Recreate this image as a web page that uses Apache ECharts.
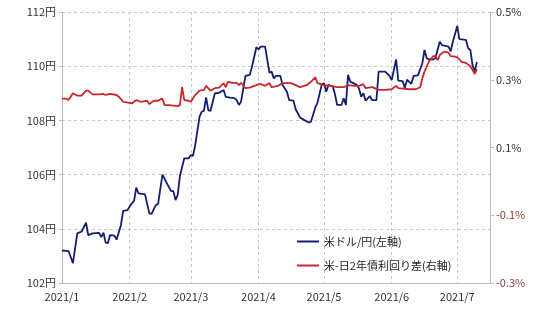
<!DOCTYPE html>
<html><head><meta charset="utf-8">
<script src="https://cdn.jsdelivr.net/npm/echarts@6/dist/echarts.min.js"></script>
<style>html,body{margin:0;padding:0;background:#fff}#c{width:540px;height:320px}</style>
</head><body><div id="c"></div>
<script>
const seriesNames = ['米ドル/円(左軸)', '米-日2年債利回り差(右軸)'];
const leftTicks = [102, 104, 106, 108, 110, 112];
const rightTicks = [-0.3, -0.1, 0.1, 0.3, 0.5];

const usdjpyDates = ['2021-01-01','2021-01-04','2021-01-06','2021-01-08','2021-01-10','2021-01-12','2021-01-13','2021-01-15','2021-01-18','2021-01-19','2021-01-20','2021-01-21','2021-01-22','2021-01-23','2021-01-25','2021-01-26','2021-01-28','2021-01-29','2021-01-31','2021-02-02','2021-02-03','2021-02-04','2021-02-05','2021-02-08','2021-02-10','2021-02-11','2021-02-13','2021-02-14','2021-02-16','2021-02-18','2021-02-20','2021-02-21','2021-02-22','2021-02-23','2021-02-24','2021-02-26','2021-02-28','2021-03-01','2021-03-02','2021-03-03','2021-03-05','2021-03-06','2021-03-07','2021-03-08','2021-03-09','2021-03-10','2021-03-12','2021-03-14','2021-03-16','2021-03-17','2021-03-19','2021-03-21','2021-03-22','2021-03-23','2021-03-24','2021-03-26','2021-03-28','2021-03-29','2021-03-31','2021-04-01','2021-04-02','2021-04-04','2021-04-06','2021-04-07','2021-04-08','2021-04-09','2021-04-11','2021-04-12','2021-04-14','2021-04-15','2021-04-17','2021-04-18','2021-04-20','2021-04-22','2021-04-24','2021-04-25','2021-04-27','2021-04-28','2021-04-30','2021-05-01','2021-05-02','2021-05-03','2021-05-05','2021-05-06','2021-05-07','2021-05-09','2021-05-10','2021-05-11','2021-05-12','2021-05-13','2021-05-16','2021-05-17','2021-05-18','2021-05-19','2021-05-20','2021-05-22','2021-05-23','2021-05-25','2021-05-26','2021-05-29','2021-05-31','2021-06-01','2021-06-03','2021-06-04','2021-06-06','2021-06-07','2021-06-08','2021-06-10','2021-06-11','2021-06-13','2021-06-15','2021-06-16','2021-06-17','2021-06-18','2021-06-20','2021-06-21','2021-06-23','2021-06-24','2021-06-27','2021-06-28','2021-06-29','2021-07-01','2021-07-02','2021-07-05','2021-07-06','2021-07-07','2021-07-08','2021-07-09','2021-07-10'];
const usdjpyValues = [103.2,103.18,102.73,103.83,103.9,104.23,103.77,103.83,103.85,103.69,103.86,103.49,103.47,103.77,103.75,103.6,104.14,104.66,104.69,104.94,105.03,105.52,105.31,105.27,104.57,104.55,104.88,104.92,106.0,105.68,105.39,105.39,105.06,105.25,105.95,106.6,106.6,106.72,106.69,107.09,108.14,108.32,108.35,108.85,108.38,108.35,109.0,109.02,109.12,108.87,108.84,108.82,108.75,108.57,108.69,109.64,109.68,109.98,110.7,110.62,110.72,110.72,109.76,109.8,109.55,109.64,109.64,109.31,109.06,108.75,108.73,108.41,108.11,108.01,107.92,107.95,108.48,108.65,109.34,109.37,109.06,109.31,109.25,108.97,108.57,108.57,108.82,108.57,109.68,109.43,109.31,109.18,108.87,109.0,108.73,108.9,108.75,108.75,109.8,109.8,109.64,109.49,110.25,109.47,109.45,109.2,109.5,109.35,109.64,109.66,110.1,110.6,110.3,110.25,110.25,110.3,110.9,110.78,110.72,110.55,110.9,111.48,111.0,110.97,110.66,110.6,110.04,109.8,110.15];

const spreadDates = ['2021-01-01','2021-01-03','2021-01-04','2021-01-06','2021-01-08','2021-01-10','2021-01-12','2021-01-13','2021-01-15','2021-01-18','2021-01-20','2021-01-21','2021-01-23','2021-01-26','2021-01-27','2021-01-29','2021-02-01','2021-02-02','2021-02-04','2021-02-06','2021-02-08','2021-02-09','2021-02-10','2021-02-12','2021-02-14','2021-02-15','2021-02-16','2021-02-17','2021-02-19','2021-02-23','2021-02-24','2021-02-25','2021-02-26','2021-02-28','2021-03-01','2021-03-03','2021-03-05','2021-03-07','2021-03-08','2021-03-10','2021-03-12','2021-03-14','2021-03-16','2021-03-17','2021-03-18','2021-03-20','2021-03-22','2021-03-23','2021-03-24','2021-03-26','2021-03-28','2021-03-31','2021-04-01','2021-04-02','2021-04-04','2021-04-06','2021-04-07','2021-04-10','2021-04-12','2021-04-16','2021-04-18','2021-04-20','2021-04-23','2021-04-25','2021-04-27','2021-04-28','2021-05-01','2021-05-04','2021-05-07','2021-05-10','2021-05-12','2021-05-15','2021-05-17','2021-05-19','2021-05-20','2021-05-23','2021-05-26','2021-05-29','2021-06-01','2021-06-03','2021-06-04','2021-06-09','2021-06-12','2021-06-14','2021-06-15','2021-06-16','2021-06-18','2021-06-20','2021-06-21','2021-06-22','2021-06-23','2021-06-25','2021-06-27','2021-06-28','2021-06-30','2021-07-01','2021-07-03','2021-07-05','2021-07-07','2021-07-08','2021-07-09','2021-07-10'];
const spreadValues = [0.244,0.244,0.24,0.26,0.253,0.253,0.268,0.268,0.257,0.257,0.258,0.255,0.258,0.255,0.25,0.235,0.232,0.23,0.24,0.235,0.237,0.238,0.228,0.238,0.238,0.242,0.244,0.225,0.225,0.222,0.225,0.278,0.24,0.238,0.235,0.255,0.268,0.27,0.282,0.268,0.275,0.277,0.29,0.278,0.294,0.291,0.291,0.284,0.291,0.275,0.277,0.284,0.287,0.287,0.282,0.29,0.278,0.282,0.29,0.29,0.284,0.278,0.284,0.294,0.307,0.29,0.284,0.282,0.278,0.278,0.284,0.282,0.282,0.287,0.275,0.278,0.27,0.27,0.272,0.282,0.275,0.272,0.272,0.278,0.304,0.324,0.353,0.37,0.37,0.358,0.373,0.383,0.38,0.37,0.368,0.366,0.353,0.35,0.339,0.329,0.317,0.331];

const FONT = '"Noto Sans CJK JP", "Noto Sans", sans-serif';
const chart = echarts.init(document.getElementById('c'), null, {renderer: 'canvas'});
chart.setOption({
  animation: false,
  backgroundColor: '#fff',
  textStyle: {fontFamily: FONT},
  grid: {left: 62, right: 50, top: 12, bottom: 37, containLabel: false},
  legend: {
    orient: 'vertical', left: 292, top: 231, itemGap: 13,
    itemWidth: 22, itemHeight: 2, icon: 'rect',
    textStyle: {fontFamily: FONT, fontSize: 11, color: '#222'},
    data: seriesNames
  },
  xAxis: {
    type: 'time', min: '2021-01-01', max: '2021-07-16', splitNumber: 7,
    axisLine: {onZero: false, lineStyle: {color: '#bdbdbd'}},
    axisTick: {show: false},
    splitLine: {show: true, lineStyle: {color: '#c8c8c8', type: [3, 3]}},
    axisLabel: {
      color: '#333', fontSize: 11, fontFamily: FONT, margin: 8,
      showMaxLabel: false,
      formatter: function (v) { const d = new Date(v); return d.getFullYear() + '/' + (d.getMonth() + 1); }
    }
  },
  yAxis: [{
    type: 'value', min: leftTicks[0], max: leftTicks[leftTicks.length - 1], interval: 2,
    axisLine: {show: true, lineStyle: {color: '#bdbdbd'}},
    axisTick: {show: true, length: 3, lineStyle: {color: '#bdbdbd'}},
    splitLine: {show: true, lineStyle: {color: '#c8c8c8', type: [3, 3]}},
    axisLabel: {color: '#333', fontSize: 11, fontFamily: FONT, margin: 6, formatter: v => v + '円'}
  }, {
    type: 'value', min: rightTicks[0], max: rightTicks[rightTicks.length - 1],
    position: 'right',
    axisLine: {show: true, onZero: false, lineStyle: {color: '#bdbdbd'}},
    axisTick: {show: true, length: 4, customValues: rightTicks, lineStyle: {color: '#bdbdbd'}},
    splitLine: {show: false},
    axisLabel: {
      customValues: rightTicks,
      fontSize: 11, fontFamily: FONT, margin: 6,
      color: v => (v < 0 ? '#8b3a3a' : '#333'),
      formatter: v => (Math.round(v * 10) / 10).toFixed(1) + '%'
    }
  }],
  series: [{
    name: seriesNames[0], type: 'line', yAxisIndex: 0, symbol: 'none',
    lineStyle: {color: '#141e6e', width: 1.8}, itemStyle: {color: '#141e6e'},
    data: usdjpyDates.map((d, i) => [d, usdjpyValues[i]])
  }, {
    name: seriesNames[1], type: 'line', yAxisIndex: 1, symbol: 'none',
    lineStyle: {color: '#c8282d', width: 1.8}, itemStyle: {color: '#c8282d'},
    data: spreadDates.map((d, i) => [d, spreadValues[i]])
  }]
});
</script></body></html>
